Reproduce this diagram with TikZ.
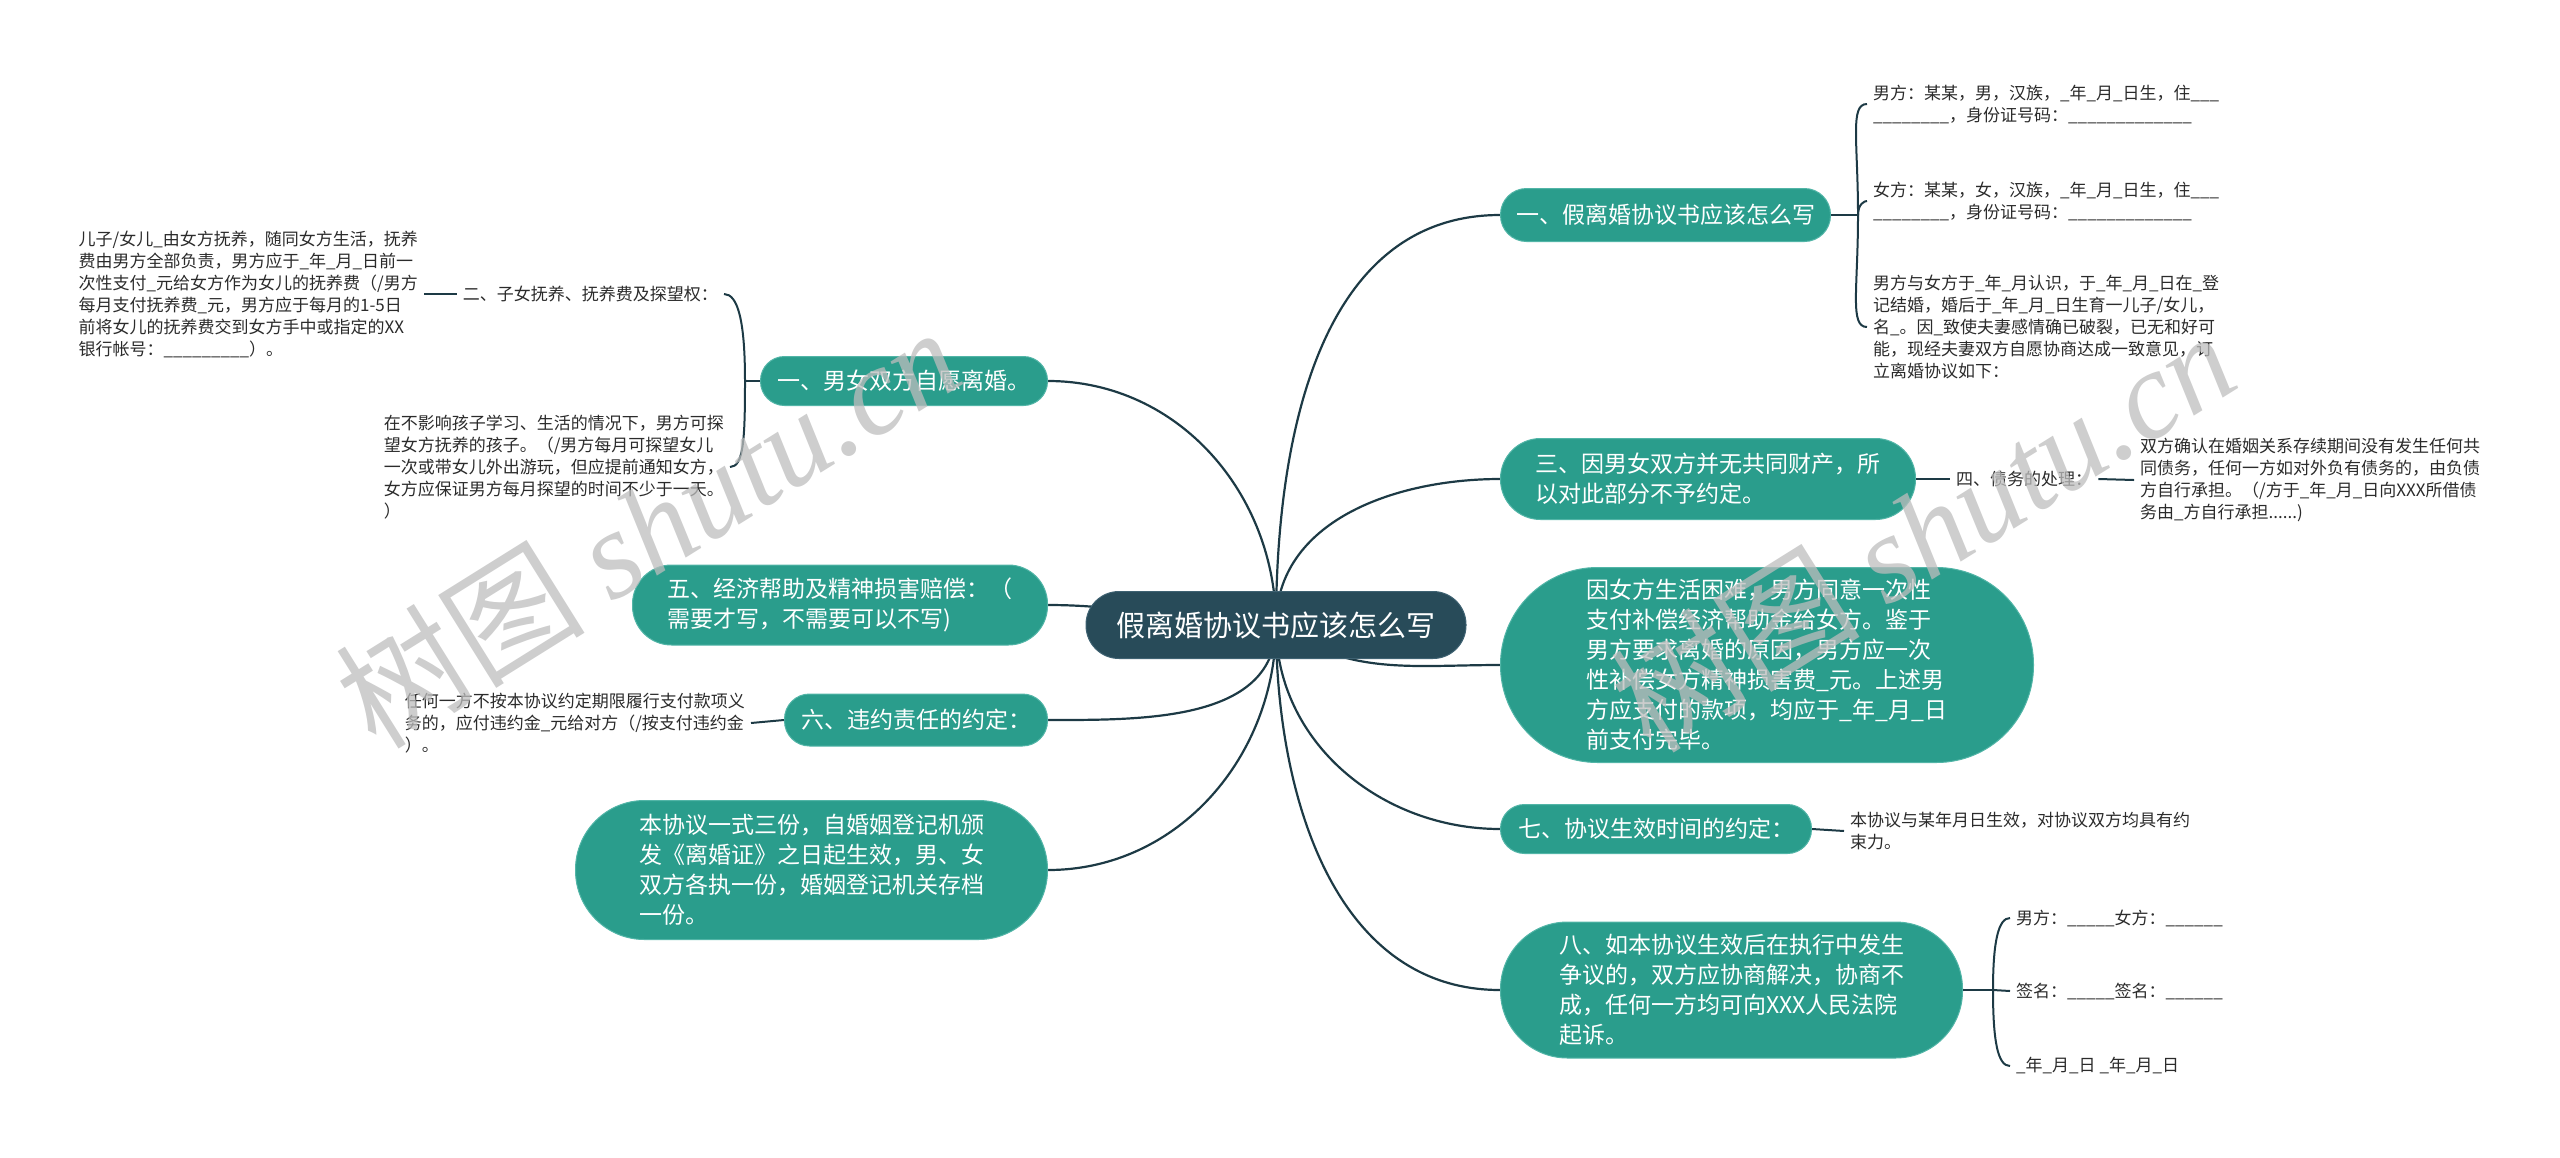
\documentclass[tikz,border=0pt]{standalone}
\usepackage{fontspec}
\setmainfont{Noto Sans CJK SC}
\newfontfamily\wmfont{Liberation Serif}
\usetikzlibrary{backgrounds}
\definecolor{teal1}{HTML}{2A9D8C}
\definecolor{tealedge}{HTML}{52B5A7}
\definecolor{rootfill}{HTML}{284B59}
\definecolor{rootedge}{HTML}{3F6272}
\definecolor{lnk}{HTML}{1D3A45}
\definecolor{leaftext}{HTML}{2B2B2B}
\definecolor{wm}{HTML}{BDBDBD}
\begin{document}
\begin{tikzpicture}[x=1pt,y=1pt,
  rootnode/.style={rectangle, fill=rootfill, draw=rootedge, line width=1pt, text=white,
    font=\fontsize{29}{36}\selectfont, inner sep=0pt},
  topic/.style={rectangle, fill=teal1, draw=tealedge, line width=1pt, text=white,
    font=\fontsize{23}{30}\selectfont, align=left, inner sep=0pt},
  leaf/.style={font=\fontsize{17}{22}\selectfont, text=leaftext, align=left, inner xsep=6pt, inner ysep=2pt},
  link/.style={draw=lnk, line width=2.2pt},
  sublink/.style={draw=lnk, line width=2pt},
  brk/.style={out looseness=1.7, in looseness=0.4},
  wmark/.style={text=wm, opacity=0.75, rotate=32, font=\fontsize{125}{125}\selectfont, inner sep=0pt},
]
\useasboundingbox (0,0) rectangle (2560,-1157);

% root
\node[rootnode, minimum width=380pt, minimum height=67pt, rounded corners=33pt] (root) at (1276,-625) {假离婚协议书应该怎么写};

% right topics
\node[topic, anchor=west, minimum width=330pt, minimum height=53pt, rounded corners=26pt] (R1) at (1500,-215) {一、假离婚协议书应该怎么写};
\node[topic, anchor=west, minimum width=415pt, minimum height=81pt, rounded corners=40pt] (R3) at (1500,-479) {三、因男女双方并无共同财产，所\\以对此部分不予约定。};
\node[topic, anchor=west, minimum width=533pt, minimum height=195pt, rounded corners=97pt] (R5) at (1500,-665) {因女方生活困难，男方同意一次性\\支付补偿经济帮助金给女方。鉴于\\男方要求离婚的原因，男方应一次\\性补偿女方精神损害费\_元。上述男\\方应支付的款项，均应于\_年\_月\_日\\前支付完毕。};
\node[topic, anchor=west, minimum width=311pt, minimum height=49pt, rounded corners=24pt] (R7) at (1500,-829) {七、协议生效时间的约定：};
\node[topic, anchor=west, minimum width=462pt, minimum height=136pt, rounded corners=67pt] (R8) at (1500,-990) {八、如本协议生效后在执行中发生\\争议的，双方应协商解决，协商不\\成，任何一方均可向XXX人民法院\\起诉。};

% left topics
\node[topic, anchor=east, minimum width=287pt, minimum height=49pt, rounded corners=24pt] (L1) at (1048,-381) {一、男女双方自愿离婚。};
\node[topic, anchor=east, minimum width=415pt, minimum height=80pt, rounded corners=39pt] (L5) at (1048,-605) {五、经济帮助及精神损害赔偿：（\\需要才写，不需要可以不写)};
\node[topic, anchor=east, minimum width=263pt, minimum height=52pt, rounded corners=25pt] (L6) at (1048,-720) {六、违约责任的约定：};
\node[topic, anchor=east, minimum width=472pt, minimum height=139pt, rounded corners=69pt] (L9) at (1048,-870) {本协议一式三份，自婚姻登记机颁\\发《离婚证》之日起生效，男、女\\双方各执一份，婚姻登记机关存档\\一份。};

% right leaves
\node[leaf, anchor=west] (A1) at (1867,-104) {男方：某某，男，汉族，\_年\_月\_日生，住\_\_\_\\\_\_\_\_\_\_\_\_，身份证号码：\_\_\_\_\_\_\_\_\_\_\_\_\_};
\node[leaf, anchor=west] (A2) at (1867,-201) {女方：某某，女，汉族，\_年\_月\_日生，住\_\_\_\\\_\_\_\_\_\_\_\_，身份证号码：\_\_\_\_\_\_\_\_\_\_\_\_\_};
\node[leaf, anchor=west] (A3) at (1867,-327) {男方与女方于\_年\_月认识，于\_年\_月\_日在\_登\\记结婚，婚后于\_年\_月\_日生育一儿子/女儿，\\名\_。因\_致使夫妻感情确已破裂，已无和好可\\能，现经夫妻双方自愿协商达成一致意见，订\\立离婚协议如下：};
\node[leaf, anchor=west] (R4) at (1950,-479) {四、债务的处理：};
\node[leaf, anchor=west] (R4a) at (2134,-480) {双方确认在婚姻关系存续期间没有发生任何共\\同债务，任何一方如对外负有债务的，由负债\\方自行承担。（/方于\_年\_月\_日向XXX所借债\\务由\_方自行承担......)};
\node[leaf, anchor=west] (R7a) at (1844,-831) {本协议与某年月日生效，对协议双方均具有约\\束力。};
\node[leaf, anchor=west] (S1) at (2010,-918) {男方：\_\_\_\_\_女方：\_\_\_\_\_\_};
\node[leaf, anchor=west] (S2) at (2010,-991) {签名：\_\_\_\_\_签名：\_\_\_\_\_\_};
\node[leaf, anchor=west] (S3) at (2010,-1066) {\_年\_月\_日 \_年\_月\_日};

% left leaves
\node[leaf, anchor=east] (B1) at (724,-294) {二、子女抚养、抚养费及探望权：};
\node[leaf, anchor=east] (B1a) at (424,-294) {儿子/女儿\_由女方抚养，随同女方生活，抚养\\费由男方全部负责，男方应于\_年\_月\_日前一\\次性支付\_元给女方作为女儿的抚养费（/男方\\每月支付抚养费\_元，男方应于每月的1-5日\\前将女儿的抚养费交到女方手中或指定的XX\\银行帐号：\_\_\_\_\_\_\_\_\_）。};
\node[leaf, anchor=east] (B2) at (730,-467) {在不影响孩子学习、生活的情况下，男方可探\\望女方抚养的孩子。（/男方每月可探望女儿\\一次或带女儿外出游玩，但应提前通知女方，\\女方应保证男方每月探望的时间不少于一天。\\）};
\node[leaf, anchor=east] (L6a) at (751,-723) {任何一方不按本协议约定期限履行支付款项义\\务的，应付违约金\_元给对方（/按支付违约金\\）。};

% junction points of the brackets
\coordinate (J1) at (1858,-215);
\coordinate (J8) at (1993,-990);
\coordinate (JL) at (745,-381);

% main connectors
\begin{scope}[on background layer]
\draw[link] (root.center) to[out=90,in=180] (R1.west);
\draw[link] (root.center) to[out=90,in=180] (R3.west);
\draw[link] (root.center) to[out=-35,in=180] (R5.west);
\draw[link] (root.center) to[out=-90,in=180] (R7.west);
\draw[link] (root.center) to[out=-90,in=180] (R8.west);
\draw[link] (root.center) to[out=90,in=0] (L1.east);
\draw[link] (root.center) to[out=180,in=0] (L5.east);
\draw[link] (root.center) to[out=-90,in=0] (L6.east);
\draw[link] (root.center) to[out=-90,in=0] (L9.east);
\end{scope}

% sub connectors
\draw[sublink] (R1.east) -- (J1);
\draw[sublink] (J1) to[out=90,in=180,brk] (A1.west);
\draw[sublink] (J1) to[out=90,in=180,brk] (A2.west);
\draw[sublink] (J1) to[out=-90,in=180,brk] (A3.west);
\draw[sublink] (R3.east) -- (R4.west);
\draw[sublink] (R4.east) -- (R4a.west);
\draw[sublink] (R7.east) -- (R7a.west);
\draw[sublink] (R8.east) -- (J8);
\draw[sublink] (J8) to[out=90,in=180,brk] (S1.west);
\draw[sublink] (J8) -- (S2.west);
\draw[sublink] (J8) to[out=-90,in=180,brk] (S3.west);
\draw[sublink] (L1.west) -- (JL);
\draw[sublink] (JL) to[out=90,in=0,brk] (B1.east);
\draw[sublink] (JL) to[out=-90,in=0,brk] (B2.east);
\draw[sublink] (B1.west) -- (B1a.east);
\draw[sublink] (L6.west) -- (L6a.east);

% watermarks
\node[wmark] (wm1) at (647,-526) {树图 {\wmfont\itshape shutu.cn}};
\node[wmark] (wm2) at (1922,-530) {树图 {\wmfont\itshape shutu.cn}};
\end{tikzpicture}
\end{document}
